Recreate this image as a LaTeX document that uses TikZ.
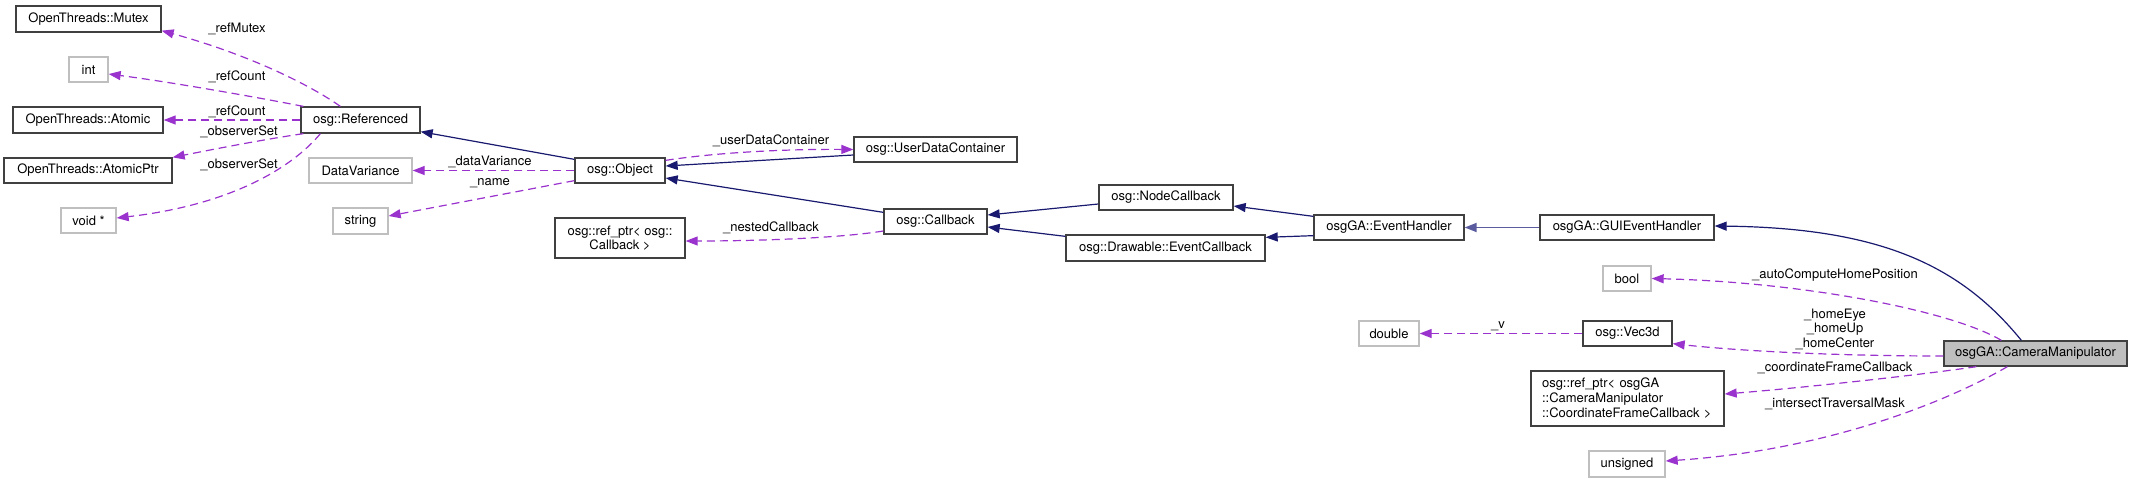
\documentclass[tikz,border=0pt]{standalone}
\usepackage{fontspec}
\setmainfont{TeX Gyre Heros}
\usetikzlibrary{arrows.meta,calc}
\definecolor{inhc}{HTML}{191970}
\definecolor{inhlight}{HTML}{5A5A9E}
\definecolor{memc}{HTML}{9A32CD}
\definecolor{boxc}{HTML}{404040}
\definecolor{grayc}{HTML}{BFBFBF}
\begin{document}
\begin{tikzpicture}[x=1pt,y=-1pt,
  every node/.style={font=\fontsize{13}{14.5}\selectfont},
  cls/.style={draw=boxc, line width=1.3pt, fill=white, inner sep=0pt, minimum height=25pt},
  ext/.style={draw=grayc, line width=1.3pt, fill=white, inner sep=0pt, minimum height=25pt},
  cur/.style={draw=boxc, line width=1.3pt, fill=grayc, inner sep=0pt, minimum height=25pt},
  inh/.style={draw=inhc, line width=1.2pt, -{Triangle[length=12pt,width=9pt]}},
  mem/.style={draw=memc, line width=1.2pt, dash pattern=on 8pt off 5pt, -{Triangle[length=12pt,width=9pt]}},
  lbl/.style={inner sep=0pt, align=center}
]
\useasboundingbox (0,0) rectangle (2132,483);

% nodes
\node[cls, minimum width=145pt, minimum height=26pt] (mutex) at (88.5,19) {OpenThreads::Mutex};
\node[ext, minimum width=39pt] (int) at (88.5,69.5) {int};
\node[cls, minimum width=150pt, minimum height=26pt] (atomic) at (88,120) {OpenThreads::Atomic};
\node[cls, minimum width=168pt] (atomicptr) at (88,170.5) {OpenThreads::AtomicPtr};
\node[ext, minimum width=55pt] (voidp) at (88.5,220.5) {void *};
\node[cls, minimum width=119pt, minimum height=26pt] (ref) at (360.5,120) {osg::Referenced};
\node[ext, minimum width=103pt] (dv) at (360.5,170.5) {DataVariance};
\node[ext, minimum width=55pt, minimum height=26pt] (string) at (360.5,221) {string};
\node[cls, minimum width=90pt] (obj) at (620,170.5) {osg::Object};
\node[cls, minimum width=163pt] (udc) at (935.5,149.5) {osg::UserDataContainer};
\node[cls, minimum width=103pt] (cb) at (935.5,221.5) {osg::Callback};
\node[cls, minimum width=130pt, minimum height=40pt, align=center] (refcb) at (620,238) {osg::ref\_ptr< osg::\\Callback >};
\node[cls, minimum width=134pt] (nodecb) at (1166,197.5) {osg::NodeCallback};
\node[cls, minimum width=199pt, minimum height=26pt] (dec) at (1165.5,248) {osg::Drawable::EventCallback};
\node[cls, minimum width=150pt] (eh) at (1389,227.5) {osgGA::EventHandler};
\node[cls, minimum width=174pt] (gui) at (1627,227.5) {osgGA::GUIEventHandler};
\node[ext, minimum width=48pt] (bool) at (1627,278.5) {bool};
\node[ext, minimum width=60pt] (double) at (1389,333.5) {double};
\node[cls, minimum width=89pt] (vec) at (1627.5,333.5) {osg::Vec3d};
\node[cls, text width=171pt, inner xsep=11pt, minimum height=55pt, align=left, font=\fontsize{13}{15}\selectfont] (refcm) at (1627.5,398.5) {osg::ref\_ptr< osgGA\\::CameraManipulator\\::CoordinateFrameCallback >};
\node[ext, minimum width=76pt, minimum height=26pt] (unsigned) at (1627,464) {unsigned};
\node[cur, minimum width=183pt] (cm) at (2035.5,353.5) {osgGA::CameraManipulator};

% inheritance edges
\draw[inh] ($(obj.north west)+(0,2)$) -- ($(ref.south east)+(0,-2)$);
\draw[inh] ($(udc.west)+(0,5.5)$) -- ($(obj.east)+(0,-4.5)$);
\draw[inh] ($(cb.north west)+(0,4)$) -- ($(obj.east)+(0,7.5)$);
\draw[inh] ($(nodecb.west)+(0,6.5)$) -- ($(cb.east)+(0,-6.5)$);
\draw[inh] ($(dec.north west)+(0,2)$) -- ($(cb.east)+(0,5.5)$);
\draw[inh] ($(eh.north west)+(0,2)$) -- ($(nodecb.east)+(0,8.5)$);
\draw[inh] ($(eh.south west)+(0,-5)$) -- ($(dec.north east)+(0,3)$);
\draw[inh, draw=inhlight, line width=1.8pt] (gui.west) -- (eh.east);
\draw[inh] ($(cm.north west)+(78,0)$) .. controls (1960,265) and (1880,228) .. ($(gui.east)+(0,-1.5)$);

% member edges
\draw[mem] ($(ref.north west)+(40,0)$) .. controls (310,85) and (250,55) .. ($(mutex.south east)+(0,-2)$);
\draw[mem] ($(ref.north west)+(3,0)$) .. controls (250,96) and (170,82) .. ($(int.east)+(0,4.5)$);
\draw[mem] (ref.west) -- (atomic.east);
\draw[mem] ($(ref.south west)+(3,0)$) .. controls (260,140) and (210,150) .. (atomicptr.north east);
\draw[mem] ($(ref.south west)+(20,0)$) .. controls (292,168) and (230,205) .. ($(voidp.east)+(0,-2.5)$);
\draw[mem] (obj.west) -- (dv.east);
\draw[mem] ($(obj.south west)+(0,-3)$) -- ($(string.east)+(0,-5)$);
\draw[mem] ($(obj.north east)+(0,3)$) .. controls (720,152) and (790,149) .. (udc.west);
\draw[mem] ($(cb.west)+(0,9.5)$) .. controls (840,238) and (760,241) .. ($(refcb.east)+(0,3)$);
\draw[mem] (vec.west) -- (double.east);
\draw[mem] ($(cm.north west)+(58,0)$) .. controls (1950,310) and (1800,282) .. (bool.east);
\draw[mem] ($(cm.west)+(0,2.5)$) .. controls (1850,356) and (1750,352) .. ($(vec.south east)+(0,-3)$);
\draw[mem] ($(cm.south west)+(33,0)$) .. controls (1920,375) and (1800,388) .. ($(refcm.east)+(0,-4.5)$);
\draw[mem] ($(cm.south west)+(64,0)$) .. controls (1950,400) and (1830,450) .. ($(unsigned.east)+(0,-3)$);

% edge labels
\node[lbl] (l1) at (237,29) {\_refMutex};
\node[lbl] (l2) at (237,77) {\_refCount};
\node[lbl] (l3) at (237,112) {\_refCount};
\node[lbl] (l4) at (239,132) {\_observerSet};
\node[lbl] (l5) at (239,165) {\_observerSet};
\node[lbl] (l6) at (490,162) {\_dataVariance};
\node[lbl] (l7) at (490,183) {\_name};
\node[lbl] (l8) at (771,141) {\_userDataContainer};
\node[lbl] (l9) at (771,228) {\_nestedCallback};
\node[lbl] (l10) at (1498,326) {\_v};
\node[lbl] (l11) at (1835,275) {\_autoComputeHomePosition};
\node[lbl] (l12) at (1835,329) {\_homeEye\\\_homeUp\\\_homeCenter};
\node[lbl] (l13) at (1835,368) {\_coordinateFrameCallback};
\node[lbl] (l14) at (1835,404) {\_intersectTraversalMask};
\end{tikzpicture}
\end{document}
